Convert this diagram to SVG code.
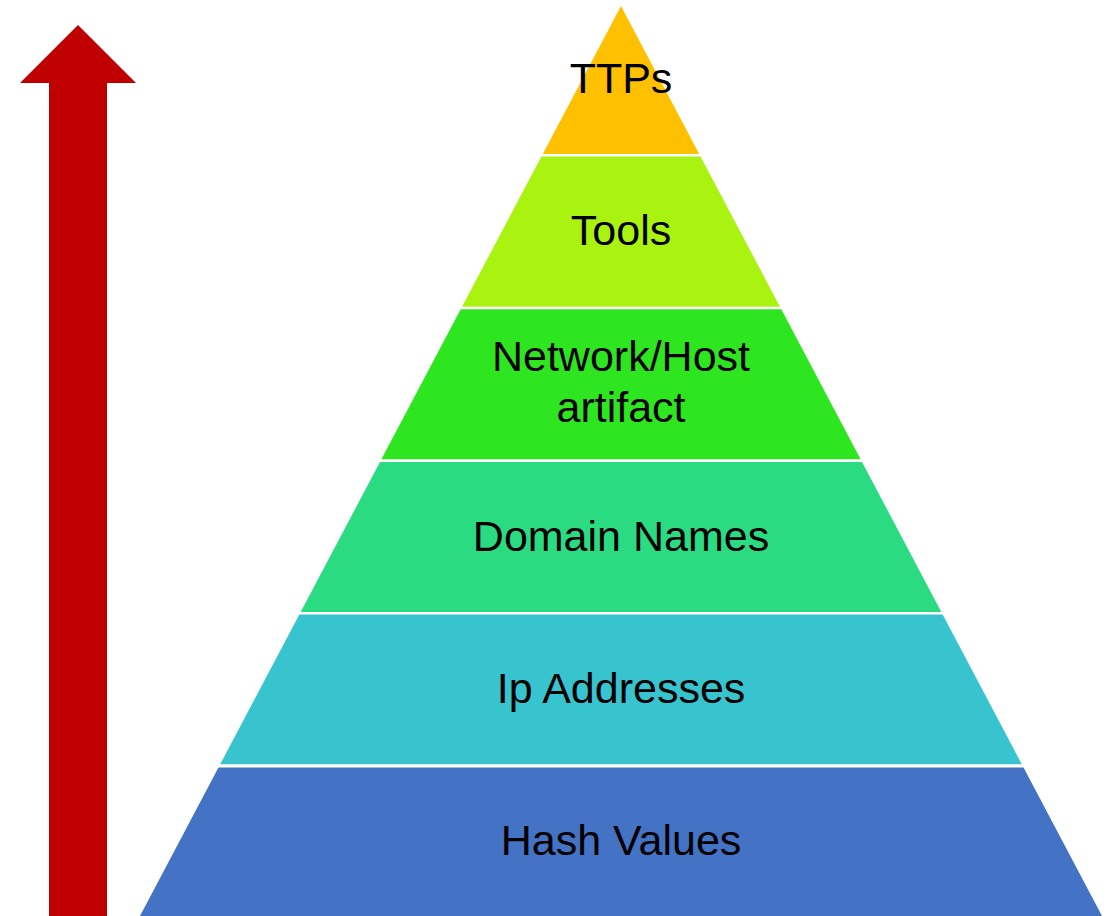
<svg xmlns="http://www.w3.org/2000/svg" width="1114" height="916" viewBox="0 0 1114 916">
<style>
.lbl{font-family:"Liberation Sans",Arial,sans-serif;font-size:43px;fill:#000;text-anchor:middle}
</style>
<rect width="1114" height="916" fill="#fff"/>
<g id="arrow">
<polygon points="78,25 136,83 107,83 107,916 49,916 49,83 20,83" fill="#C00000"/>
</g>
<g id="ttps">
<polygon points="621,6 699.2,154 542.8,154" fill="#FFC000"/>
<text class="lbl" x="621" y="93">TTPs</text>
</g>
<g id="tools">
<polygon points="541.45,156.5 700.55,156.5 779.95,306.7 462.05,306.7" fill="#AAF20F"/>
<text class="lbl" x="621" y="245">Tools</text>
</g>
<g id="network">
<polygon points="460.68,309.3 781.32,309.3 860.61,459.3 381.39,459.3" fill="#2EE620"/>
<text class="lbl" x="621" y="371">Network/Host</text>
<text class="lbl" x="621" y="422">artifact</text>
</g>
<g id="domain">
<polygon points="379.96,462 862.04,462 941.33,612 300.67,612" fill="#2BDB82"/>
<text class="lbl" x="621" y="551">Domain Names</text>
</g>
<g id="ip">
<polygon points="299.35,614.5 942.65,614.5 1021.83,764.3 220.17,764.3" fill="#38C4CF"/>
<text class="lbl" x="621" y="703">Ip Addresses</text>
</g>
<g id="hash">
<polygon points="218.47,767.5 1023.53,767.5 1102.03,916 139.97,916" fill="#4472C4"/>
<text class="lbl" x="621" y="855">Hash Values</text>
</g>
<g id="connectors"></g>
</svg>
